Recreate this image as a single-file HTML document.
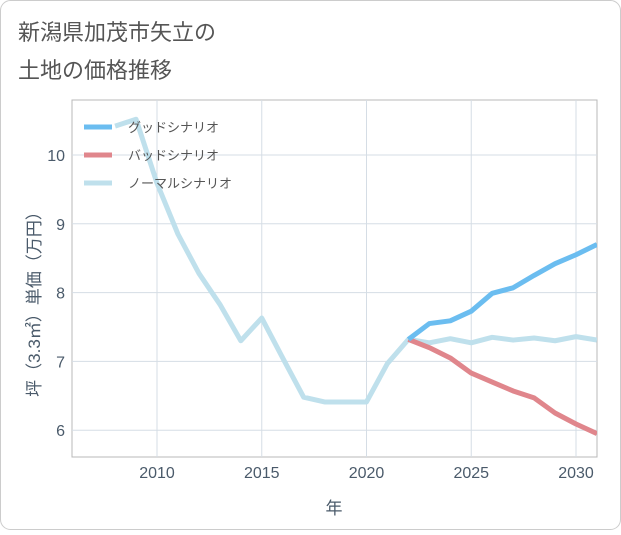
<!DOCTYPE html>
<html><head><meta charset="utf-8">
<style>
body{margin:0;background:#fff;}
#wrap{position:relative;width:621px;height:530px;}
svg text{font-family:"Liberation Sans","Noto Sans CJK JP",sans-serif;}
</style></head>
<body>
<div id="wrap">
<svg id="chart" width="621" height="530">
<rect x="0.5" y="0.5" width="620" height="529" rx="10" fill="#fff" stroke="#ccc"/>
<text x="18" y="40" font-size="22" fill="#555">新潟県加茂市矢立の</text>
<text x="18" y="78" font-size="22" fill="#555">土地の価格推移</text>
<rect x="72" y="100" width="525" height="357" fill="#fff" stroke="#b8b8b8"/>
<g id="grid"></g>
<g id="series"></g>
<g id="legend"></g>
<text x="334" y="514" font-size="17" fill="#4a5a6a" text-anchor="middle">年</text>
<text transform="translate(40,300) rotate(-90)" font-size="17" fill="#4a5a6a" text-anchor="middle">坪（3.3㎡）単価（万円）</text>
</svg>
</div>
<script>
const years=[2008,2009,2010,2011,2012,2013,2014,2015,2016,2017,2018,2019,2020,2021,2022,2023,2024,2025,2026,2027,2028,2029,2030,2031];
const normalVals=[10.42,10.52,9.59,8.85,8.28,7.83,7.3,7.63,7.05,6.48,6.41,6.41,6.41,6.97,7.32,7.27,7.33,7.27,7.35,7.31,7.34,7.3,7.36,7.31];
const futureYears=[2022,2023,2024,2025,2026,2027,2028,2029,2030,2031];
const goodVals=[7.32,7.55,7.59,7.73,7.99,8.07,8.25,8.42,8.55,8.7];
const badVals=[7.32,7.2,7.05,6.83,6.7,6.57,6.47,6.25,6.09,5.95];
const xTicks=[2010,2015,2020,2025,2030];
const yTicks=[6,7,8,9,10];
const legendLabels=["グッドシナリオ","バッドシナリオ","ノーマルシナリオ"];
const NS="http://www.w3.org/2000/svg";
const X=y=>157+(y-2010)*20.95;
const Y=v=>155+(10-v)*68.8;
function mk(tag,attrs,parent){const e=document.createElementNS(NS,tag);for(const k in attrs)e.setAttribute(k,attrs[k]);parent.appendChild(e);return e;}
const grid=document.getElementById('grid');
xTicks.forEach(t=>{
 const l=mk('line',{x1:X(t),x2:X(t),y1:100,y2:457,stroke:'#d5dde5'},grid);
 
 
 const tx=mk('text',{x:X(t),y:478,'font-size':16,fill:'#4a5a6a','text-anchor':'middle'},grid);
 tx.textContent=t;
 
 
});
yTicks.forEach(t=>{
 const l=mk('line',{x1:72,x2:597,y1:Y(t),y2:Y(t),stroke:'#d5dde5'},grid);
 
 
 const tx=mk('text',{x:65,y:Y(t)+6,'font-size':16,fill:'#4a5a6a','text-anchor':'end'},grid);
 tx.textContent=t;
 
 
});
const ser=document.getElementById('series');
const clip=mk('clipPath',{id:'cp'},ser);mk('rect',{x:72,y:100,width:525,height:357},clip);
function line(xs,vs,color,name){
 const p=mk('polyline',{points:xs.map((y,i)=>X(y)+','+Y(vs[i])).join(' '),fill:'none',stroke:color,'stroke-width':5,'stroke-linejoin':'round','clip-path':'url(#cp)'},ser);
 
 
}
line(years,normalVals,'#bfe0ec','normal-scenario-line');
line(futureYears,badVals,'#e0868c','bad-scenario-line');
line(futureYears,goodVals,'#6bbdf0','good-scenario-line');
const lg=document.getElementById('legend');
const lc=['#6bbdf0','#e0868c','#bfe0ec'];
legendLabels.forEach((s,i)=>{
 const y=127+i*28;
 const l=mk('line',{x1:84,x2:112,y1:y,y2:y,stroke:lc[i],'stroke-width':5},lg);
 
 
 const t=mk('text',{x:128,y:y+5,'font-size':13,fill:'#555'},lg);
 t.textContent=s;
 
 
});
</script>
</body></html>
